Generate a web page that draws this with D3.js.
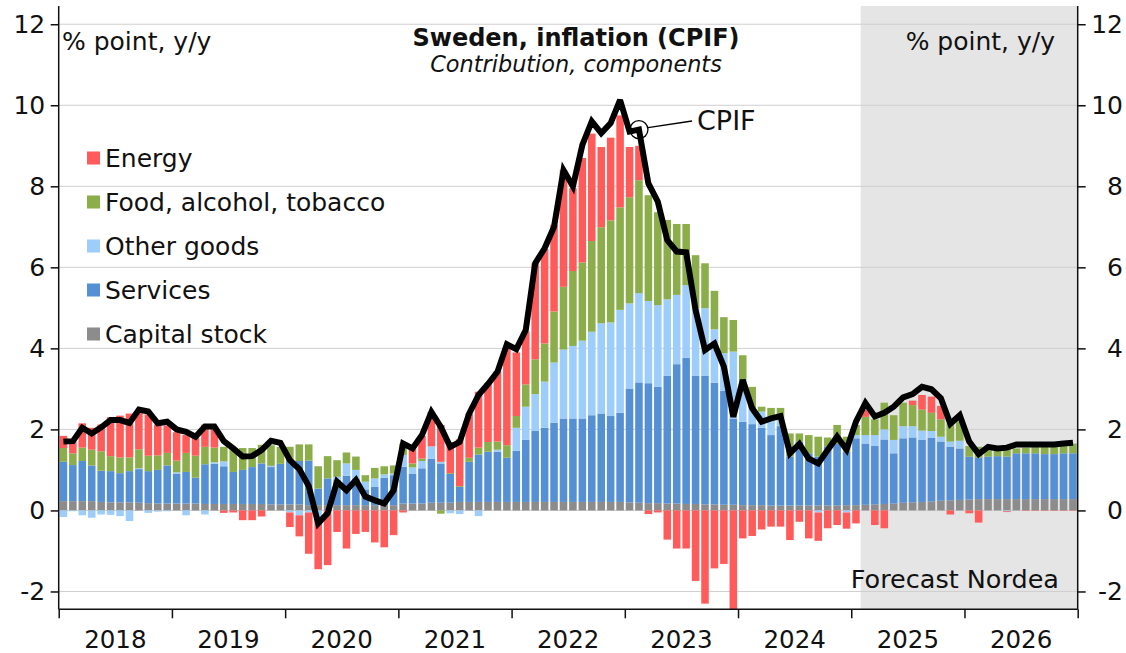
<!DOCTYPE html>
<html><head><meta charset="utf-8">
<script src="https://cdn.jsdelivr.net/npm/d3@7"></script>
<style>
body{margin:0;background:#fff}
svg{display:block}
text{font-family:"DejaVu Sans",sans-serif;fill:#111}
</style>
</head><body>
<svg id="chart" width="1126" height="653"></svg>
<script>
// ---------------- data (monthly, Jan 2018 - Dec 2026) ----------------
const years = ["2018","2019","2020","2021","2022","2023","2024","2025","2026"];
const yTicks = [-2,0,2,4,6,8,10,12];
const forecastStartIndex = 85; // Feb 2025

const capital = [0.23,0.23,0.23,0.23,0.21,0.20,0.20,0.20,0.19,0.18,0.17,0.17,
 0.17,0.17,0.17,0.16,0.16,0.16,0.16,0.16,0.16,0.16,0.15,0.15,
 0.15,0.15,0.13,0.13,0.13,0.13,0.13,0.13,0.13,0.13,0.13,0.13,
 0.17,0.17,0.17,0.19,0.19,0.19,0.21,0.21,0.21,0.21,0.21,0.21,
 0.21,0.21,0.21,0.21,0.21,0.21,0.21,0.21,0.21,0.21,0.21,0.21,
 0.20,0.19,0.18,0.18,0.17,0.17,0.16,0.16,0.15,0.15,0.14,0.14,
 0.13,0.13,0.13,0.12,0.12,0.12,0.12,0.12,0.12,0.12,0.12,0.13,
 0.13,0.14,0.15,0.16,0.17,0.19,0.20,0.21,0.22,0.24,0.25,0.26,
 0.27,0.28,0.28,0.28,0.28,0.28,0.28,0.28,0.28,0.28,0.28,0.28];

const services = [0.97,0.89,0.99,0.88,0.77,0.77,0.72,0.77,0.83,0.79,0.83,0.94,
 0.74,0.78,0.64,0.98,0.99,0.93,0.79,0.84,0.91,1.00,0.92,1.00,
 1.07,1.07,1.10,0.41,0.66,0.62,0.73,0.66,0.39,0.45,0.68,0.74,
 0.91,0.74,0.87,1.09,0.97,0.71,0.37,0.99,1.17,1.24,1.24,1.09,
 1.26,1.53,1.75,1.83,1.95,2.06,2.06,2.06,2.14,2.17,2.12,2.20,
 2.81,2.97,2.96,2.87,3.15,3.44,3.61,3.16,3.17,3.00,2.81,2.13,
 2.06,2.00,1.91,1.74,1.96,1.21,1.58,1.29,1.21,1.45,1.52,1.32,
 1.65,1.51,1.44,1.59,1.24,1.59,1.60,1.53,1.57,1.46,1.32,1.27,
 1.06,1.02,1.05,1.06,1.05,1.13,1.13,1.13,1.11,1.11,1.13,1.13];

const otherGoods = [-0.16,-0.02,-0.12,-0.18,-0.10,-0.11,-0.14,-0.26,0.02,-0.06,-0.03,-0.02,
 0.03,-0.12,0.00,-0.10,0.04,0.12,0.00,0.00,0.00,0.00,0.03,0.00,
 -0.05,-0.12,-0.05,-0.16,0.00,0.08,0.30,0.21,0.19,0.21,0.08,0.04,
 0.29,0.15,0.18,0.30,0.04,-0.07,-0.09,0.00,-0.14,0.00,0.05,0.00,
 0.57,0.82,0.91,1.14,1.49,1.70,1.79,1.92,2.06,2.24,2.31,2.54,
 2.10,2.20,2.03,2.02,1.89,1.71,1.79,1.67,1.67,1.32,0.93,1.65,
 1.03,0.39,0.40,0.47,0.20,0.00,0.00,0.00,-0.05,0.00,0.00,-0.05,
 0.08,0.21,0.27,0.25,0.33,0.30,0.28,0.23,0.17,0.12,0.13,0.19,
 0.00,0.00,0.00,0.00,-0.02,0.00,0.00,0.00,0.00,0.00,0.00,0.00];

const food = [0.34,0.29,0.33,0.39,0.48,0.37,0.39,0.34,0.47,0.38,0.36,0.31,
 0.29,0.47,0.54,0.43,0.36,0.36,0.59,0.54,0.47,0.46,0.51,0.42,
 0.35,0.41,0.40,0.55,0.55,0.41,0.27,0.33,0.16,0.26,0.20,0.20,
 0.28,0.10,0.06,0.00,-0.08,0.02,0.02,0.10,0.17,0.24,0.20,0.31,
 0.29,0.55,0.86,0.94,1.26,1.55,1.85,1.93,2.24,2.37,2.52,2.53,
 2.62,2.79,2.61,2.29,1.96,1.75,1.51,1.31,1.11,0.95,0.89,0.78,
 0.61,0.53,0.12,0.20,0.25,0.57,0.20,0.45,0.49,0.23,0.47,0.37,
 0.25,0.45,0.39,0.66,0.61,0.58,0.52,0.52,0.45,0.43,0.45,0.48,
 0.26,0.27,0.16,0.13,0.18,0.12,0.14,0.16,0.18,0.18,0.20,0.24];

const energy = [0.30,0.29,0.60,0.54,0.66,0.96,1.03,1.08,0.93,1.02,0.76,0.68,
 0.70,0.44,0.45,0.55,0.52,-0.06,-0.05,-0.24,-0.24,-0.15,0.00,0.00,
 -0.36,-0.52,-1.02,-1.29,-1.35,-0.53,-0.94,-0.58,-0.53,-0.79,-0.91,-0.61,
 -0.05,0.37,0.56,0.85,0.91,0.76,1.16,1.09,1.38,1.45,1.74,2.40,
 1.57,1.31,2.37,2.33,2.14,2.88,2.04,2.58,2.65,1.98,2.04,2.27,
 1.24,0.85,-0.09,-0.05,-0.72,-0.94,-0.94,-1.74,-2.30,-1.43,-1.32,-2.60,
 -0.69,-0.63,-0.47,-0.40,-0.40,-0.73,-0.28,-0.69,-0.70,-0.44,-0.36,-0.40,
 -0.32,0.17,-0.36,-0.44,0.00,0.00,0.11,0.36,0.40,0.33,-0.10,0.00,
 -0.07,-0.30,0.00,0.00,-0.02,0.00,-0.01,-0.01,-0.01,-0.01,-0.01,-0.01];

const cpif = [1.70,1.71,2.04,1.90,2.05,2.23,2.23,2.16,2.49,2.44,2.15,2.19,
 2.00,1.94,1.82,2.07,2.07,1.71,1.53,1.33,1.34,1.49,1.72,1.67,
 1.24,1.02,0.60,-0.32,-0.07,0.71,0.50,0.75,0.34,0.25,0.17,0.50,
 1.65,1.53,1.86,2.43,2.06,1.57,1.69,2.39,2.85,3.12,3.42,4.10,
 3.98,4.45,6.10,6.47,7.00,8.40,8.00,9.02,9.60,9.31,9.56,10.13,
 9.35,9.40,8.07,7.62,6.67,6.39,6.37,4.95,3.96,4.12,3.55,2.31,
 3.22,2.52,2.19,2.27,2.33,1.41,1.64,1.28,1.16,1.49,1.82,1.50,
 2.19,2.65,2.32,2.41,2.56,2.79,2.87,3.05,2.99,2.77,2.14,2.35,
 1.70,1.39,1.57,1.53,1.55,1.63,1.63,1.63,1.63,1.63,1.65,1.67];

const seriesKeys = ["Capital stock","Services","Other goods","Food, alcohol, tobacco","Energy"];
const seriesData = [capital, services, otherGoods, food, energy];
const colors = {"Energy":"#ff5b5b","Food, alcohol, tobacco":"#8bae4b","Other goods":"#9dcdfb","Services":"#5590d4","Capital stock":"#8c8c8c"};
const legendOrder = ["Energy","Food, alcohol, tobacco","Other goods","Services","Capital stock"];

// ---------------- layout ----------------
const L = 58.7, R = 1077.7, T = 6, B = 609.3;
const svg = d3.select("#chart");

const n = cpif.length;
const idx = d3.range(n);
const rows = idx.map(i => {
  const o = {i};
  seriesKeys.forEach((k, j) => o[k] = seriesData[j][i]);
  return o;
});

const x = d3.scaleBand().domain(idx).range([L, R]).paddingInner(0.2).paddingOuter(0.1);
const y = d3.scaleLinear().domain([-2.44, 12.45]).range([B, T]);
const xYear = d3.scaleLinear().domain([2018, 2027]).range([L, R]);

// forecast shading
const fx = x(forecastStartIndex) - x.step() * x.paddingInner() / 2;
svg.append("rect").attr("x", fx).attr("y", T).attr("width", R - fx).attr("height", B - T).attr("fill", "#e5e5e5");

// gridlines
svg.append("g").selectAll("line").data(yTicks).join("line")
  .attr("x1", L).attr("x2", R).attr("y1", d => y(d)).attr("y2", d => y(d))
  .attr("stroke", "#cfcfcf").attr("stroke-width", 1);

// clip
svg.append("clipPath").attr("id", "plotclip").append("rect")
  .attr("x", L).attr("y", T).attr("width", R - L).attr("height", B - T);

// stacked bars
const stack = d3.stack().keys(seriesKeys).offset(d3.stackOffsetDiverging);
const stacked = stack(rows);
const gBars = svg.append("g").attr("clip-path", "url(#plotclip)");
gBars.selectAll("g").data(stacked).join("g")
  .attr("fill", d => colors[d.key])
  .selectAll("rect").data(d => d).join("rect")
  .attr("x", d => x(d.data.i))
  .attr("width", x.bandwidth())
  .attr("y", d => y(Math.max(d[0], d[1])))
  .attr("height", d => Math.abs(y(d[0]) - y(d[1])));

// CPIF line
const line = d3.line().x((d, i) => x(i) + x.bandwidth() / 2).y(d => y(d)).curve(d3.curveLinear);
svg.append("path").datum(cpif).attr("d", line)
  .attr("fill", "none").attr("stroke", "#000").attr("stroke-width", 6)
  .attr("stroke-linejoin", "miter").attr("stroke-miterlimit", 3).attr("stroke-linecap", "butt");

// axes
const yLeft = d3.axisLeft(y).tickValues(yTicks).tickSize(8).tickPadding(5.5).tickFormat(d => String(d));
const gl = svg.append("g").attr("transform", `translate(${L},0)`).call(yLeft);
const yRight = d3.axisRight(y).tickValues(yTicks).tickSize(8).tickFormat(d => String(d));
const gr = svg.append("g").attr("transform", `translate(${R},0)`).call(yRight);
const xAx = d3.axisBottom(xYear).tickValues(d3.range(2018, 2028)).tickSize(9).tickFormat("");
const gx = svg.append("g").attr("transform", `translate(0,${B})`).call(xAx);

[gl, gr, gx].forEach(g => {
  g.select(".domain").attr("stroke", "#111").attr("stroke-width", 1.5);
  g.selectAll(".tick line").attr("stroke", "#111").attr("stroke-width", 1.5);
  g.selectAll(".tick text").attr("font-size", 25).attr("fill", "#111").attr("font-family", "DejaVu Sans");
});
gr.selectAll(".tick text").attr("text-anchor", "end").attr("x", 1123 - R);
gl.select(".domain").attr("d", `M0,${T}V${B}`);
gr.select(".domain").attr("d", `M0,${T}V${B}`);
gx.select(".domain").attr("d", `M${L},0H${R}`);

// year labels
svg.append("g").selectAll("text").data(years).join("text")
  .attr("x", d => xYear(+d + 0.5)).attr("y", 648)
  .attr("text-anchor", "middle").attr("font-size", 24.5).text(d => d);

// titles
svg.append("text").attr("x", 576).attr("y", 46).attr("text-anchor", "middle")
  .attr("font-size", 24).attr("font-weight", "bold").text("Sweden, inflation (CPIF)");
svg.append("text").attr("x", 576).attr("y", 72).attr("text-anchor", "middle")
  .attr("font-size", 22.4).attr("font-style", "italic").text("Contribution, components");
svg.append("text").attr("x", 62).attr("y", 50).attr("font-size", 25).text("% point, y/y");
svg.append("text").attr("x", 1055).attr("y", 50).attr("text-anchor", "end").attr("font-size", 25).text("% point, y/y");
svg.append("text").attr("x", 1059).attr("y", 588).attr("text-anchor", "end").attr("font-size", 25.5).text("Forecast Nordea");

// legend
const lg = svg.append("g");
legendOrder.forEach((k, j) => {
  const cy = 158 + j * 44;
  lg.append("rect").attr("x", 87).attr("y", cy - 6.5).attr("width", 13).attr("height", 13).attr("fill", colors[k]);
  lg.append("text").attr("x", 105).attr("y", cy + 9).attr("font-size", 25).text(k);
});

// CPIF annotation
const ai = 61;
const ax = x(ai) + x.bandwidth() / 2, ay = y(cpif[ai]);
svg.append("circle").attr("cx", ax).attr("cy", ay).attr("r", 9).attr("fill", "none").attr("stroke", "#000").attr("stroke-width", 1.3);
svg.append("line").attr("x1", ax + 9).attr("y1", ay - 2).attr("x2", 692).attr("y2", 121).attr("stroke", "#000").attr("stroke-width", 1.3);
svg.append("text").attr("x", 697).attr("y", 130).attr("font-size", 27).text("CPIF");
</script>
</body></html>
